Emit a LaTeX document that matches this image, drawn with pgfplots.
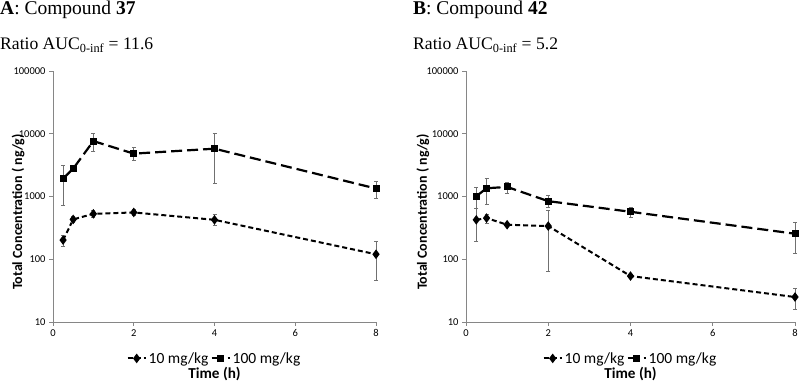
\documentclass[border=0pt]{standalone}
\usepackage{pgfplots}
\pgfplotsset{compat=1.18}
\usepackage{pgfplotstable}
\usepackage{fontspec}
\setmainfont{Liberation Serif}
\newfontfamily\calib{Carlito}
\definecolor{axgray}{HTML}{868686}
\definecolor{errgray}{HTML}{707070}

\pgfplotstableread{
t y ep em
0.25 202 35 44
0.5 431 61 50
1 530 70 66
2 557 65 64
4 425 93 83
8 120 70 73
}\Alow
\pgfplotstableread{
t y ep em
0.25 1930 1210 1194
0.5 2780 0 0
1 7640 2360 2400
2 4820 1180 1050
4 5780 4220 4170
8 1340 430 410
}\Ahigh
\pgfplotstableread{
t y ep em
0.25 425 225 235
0.5 453 70 80
1 355 0 0
2 338 262 273
4 54 0 0
8 25 9 9
}\Blow
\pgfplotstableread{
t y ep em
0.25 1010 410 365
0.5 1355 575 609
1 1420 285 290
2 843 207 163
4 571 105 113
8 255 131 131
}\Bhigh

\pgfplotsset{
  legend image code/.code={\draw[mark repeat=2,mark phase=2,#1] plot coordinates {(0pt,0pt) (9pt,0pt) (18pt,0pt)};},
  every even column/.append style={column sep=8pt},
}

\begin{document}
\begin{tikzpicture}
\path[use as bounding box] (0pt,0pt) rectangle (800pt,391pt);

\node[anchor=base west, inner sep=0, font=\fontsize{19.5}{22}\selectfont] at (0pt,376pt) {\textbf{A}: Compound \textbf{37}};
\node[anchor=base west, inner sep=0, font=\fontsize{17.6}{22}\selectfont] at (0pt,341.5pt) {Ratio AUC\textsubscript{0-inf} = 11.6};
\node[anchor=base west, inner sep=0, font=\fontsize{19.5}{22}\selectfont] at (413pt,376pt) {\textbf{B}: Compound \textbf{42}};
\node[anchor=base west, inner sep=0, font=\fontsize{17.6}{22}\selectfont] at (413pt,341.5pt) {Ratio AUC\textsubscript{0-inf} = 5.2};

\begin{axis}[
    scale only axis, width=323pt, height=251pt, at={(53pt,69pt)}, anchor=south west,
    ymode=log, log basis y=10,
    ymin=10, ymax=100000, xmin=0, xmax=8,
    clip=false,
    axis x line*=bottom, axis y line*=left,
    axis line style={draw=axgray, line width=0.6pt, -},
    xtick={0,2,4,6,8},
    ytick={10,100,1000,10000,100000},
    yticklabels={10,100,1000,10000,100000},
    yminorticks=false, xminorticks=false,
    tick align=outside,
    tick style={draw=axgray, line width=0.6pt},
    major tick length=4pt,
    ticklabel style={font=\calib\fontsize{10.5}{12}\selectfont},
    /pgf/number format/assume math mode=true,
    ylabel={\bfseries Total Concentration ( ng/g)},
    every axis y label/.style={at={(axis description cs:-0.108,0.438)}, rotate=90, anchor=center, font=\calib\fontsize{14}{16}\selectfont},
    xlabel={\bfseries Time (h)},
    every axis x label/.style={at={(axis description cs:0.5,-0.225)}, anchor=base, font=\calib\fontsize{15.2}{17}\selectfont},
    legend style={at={(axis description cs:0.5,-0.145)}, anchor=center, draw=none, fill=none,
      font=\calib\fontsize{15.5}{17}\selectfont},
    legend columns=2,
  ]
\addplot[black, line width=2pt, dash pattern=on 5pt off 3pt,
    mark=diamond*, mark size=3.2pt, mark options={solid, fill=black},
    error bars/y dir=both, error bars/y explicit,
    error bars/error bar style={errgray, line width=0.6pt, solid},
    error bars/error mark options={rotate=90, mark size=2pt, errgray, line width=0.6pt, solid}]
    table[x=t, y=y, y error plus=ep, y error minus=em] {\Alow};
\addlegendentry{10 mg/kg}
\addplot[black, line width=2.2pt, dash pattern=on 11pt off 5pt,
    mark=square*, mark size=2.4pt, mark options={solid, fill=black},
    error bars/y dir=both, error bars/y explicit,
    error bars/error bar style={errgray, line width=0.6pt, solid},
    error bars/error mark options={rotate=90, mark size=2pt, errgray, line width=0.6pt, solid}]
    table[x=t, y=y, y error plus=ep, y error minus=em] {\Ahigh};
\addlegendentry{100 mg/kg}
\end{axis}

\begin{axis}[
    scale only axis, width=329pt, height=251pt, at={(466pt,69pt)}, anchor=south west,
    ymode=log, log basis y=10,
    ymin=10, ymax=100000, xmin=0, xmax=8,
    clip=false,
    axis x line*=bottom, axis y line*=left,
    axis line style={draw=axgray, line width=0.6pt, -},
    xtick={0,2,4,6,8},
    ytick={10,100,1000,10000,100000},
    yticklabels={10,100,1000,10000,100000},
    yminorticks=false, xminorticks=false,
    tick align=outside,
    tick style={draw=axgray, line width=0.6pt},
    major tick length=4pt,
    ticklabel style={font=\calib\fontsize{10.5}{12}\selectfont},
    /pgf/number format/assume math mode=true,
    ylabel={\bfseries Total Concentration ( ng/g)},
    every axis y label/.style={at={(axis description cs:-0.131,0.438)}, rotate=90, anchor=center, font=\calib\fontsize{14}{16}\selectfont},
    xlabel={\bfseries Time (h)},
    every axis x label/.style={at={(axis description cs:0.5,-0.225)}, anchor=base, font=\calib\fontsize{15.2}{17}\selectfont},
    legend style={at={(axis description cs:0.5,-0.145)}, anchor=center, draw=none, fill=none,
      font=\calib\fontsize{15.5}{17}\selectfont},
    legend columns=2,
  ]
\addplot[black, line width=2pt, dash pattern=on 5pt off 3pt,
    mark=diamond*, mark size=3.2pt, mark options={solid, fill=black},
    error bars/y dir=both, error bars/y explicit,
    error bars/error bar style={errgray, line width=0.6pt, solid},
    error bars/error mark options={rotate=90, mark size=2pt, errgray, line width=0.6pt, solid}]
    table[x=t, y=y, y error plus=ep, y error minus=em] {\Blow};
\addlegendentry{10 mg/kg}
\addplot[black, line width=2.2pt, dash pattern=on 11pt off 5pt,
    mark=square*, mark size=2.4pt, mark options={solid, fill=black},
    error bars/y dir=both, error bars/y explicit,
    error bars/error bar style={errgray, line width=0.6pt, solid},
    error bars/error mark options={rotate=90, mark size=2pt, errgray, line width=0.6pt, solid}]
    table[x=t, y=y, y error plus=ep, y error minus=em] {\Bhigh};
\addlegendentry{100 mg/kg}
\end{axis}
\end{tikzpicture}
\end{document}
